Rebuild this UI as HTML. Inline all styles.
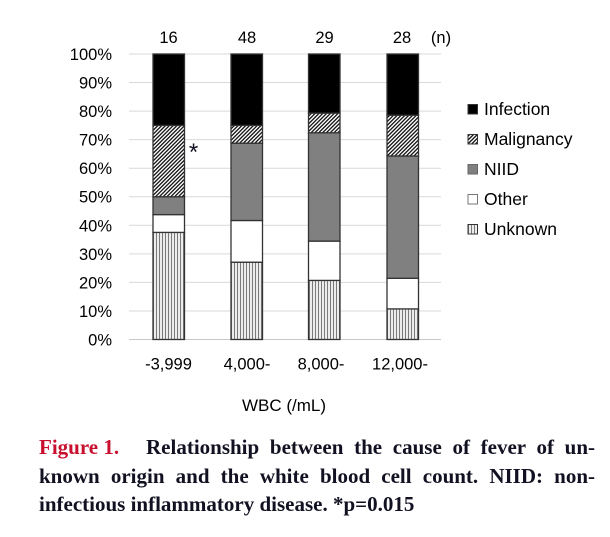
<!DOCTYPE html>
<html>
<head>
<meta charset="utf-8">
<style>
  html,body{margin:0;padding:0;background:#fff;}
  body{width:610px;height:537px;position:relative;overflow:hidden;}
  svg{position:absolute;left:0;top:0;}
  .cap{position:absolute;font-family:"Liberation Serif",serif;font-weight:bold;font-size:21px;color:#111122;white-space:nowrap;line-height:28px;}
  .just{text-align:justify;text-align-last:justify;white-space:normal;}
</style>
</head>
<body>
<svg width="610" height="537" viewBox="0 0 610 537" xmlns="http://www.w3.org/2000/svg">
  <defs>
    <pattern id="hatch" patternUnits="userSpaceOnUse" width="2.7" height="2.7" patternTransform="rotate(45)">
      <rect width="2.7" height="2.7" fill="#fff"/>
      <rect x="0" y="0" width="1.3" height="2.7" fill="#111"/>
    </pattern>
    <pattern id="vert" patternUnits="userSpaceOnUse" width="3" height="3">
      <rect width="3" height="3" fill="#ececec"/>
      <rect x="0" y="0" width="1" height="3" fill="#7a7a7a"/>
    </pattern>
  </defs>

  <!-- gridlines -->
  <g stroke="#d9d9d9" stroke-width="1">
    <line x1="129" x2="441" y1="54" y2="54"/>
    <line x1="129" x2="441" y1="82.55" y2="82.55"/>
    <line x1="129" x2="441" y1="111.1" y2="111.1"/>
    <line x1="129" x2="441" y1="139.65" y2="139.65"/>
    <line x1="129" x2="441" y1="168.2" y2="168.2"/>
    <line x1="129" x2="441" y1="196.75" y2="196.75"/>
    <line x1="129" x2="441" y1="225.3" y2="225.3"/>
    <line x1="129" x2="441" y1="253.9" y2="253.9"/>
    <line x1="129" x2="441" y1="282.4" y2="282.4"/>
    <line x1="129" x2="441" y1="311" y2="311"/>
  </g>
  <line x1="129" x2="441" y1="339.5" y2="339.5" stroke="#c8c8c8" stroke-width="1"/>

  <!-- y tick labels -->
  <g font-family="Liberation Sans, sans-serif" font-size="16.5" fill="#000" text-anchor="end">
    <text x="112" y="60">100%</text>
    <text x="112" y="88.5">90%</text>
    <text x="112" y="117">80%</text>
    <text x="112" y="145.6">70%</text>
    <text x="112" y="174.2">60%</text>
    <text x="112" y="202.7">50%</text>
    <text x="112" y="231.3">40%</text>
    <text x="112" y="259.9">30%</text>
    <text x="112" y="288.4">20%</text>
    <text x="112" y="317">10%</text>
    <text x="112" y="345.5">0%</text>
  </g>

  <!-- bars -->
  <g stroke="#333" stroke-width="1.3">
    <!-- bar 1 -->
    <rect x="153" y="232.4" width="31.5" height="107.1" fill="url(#vert)"/>
    <rect x="153" y="214.6" width="31.5" height="17.8" fill="#fff"/>
    <rect x="153" y="196.75" width="31.5" height="17.85" fill="#808080"/>
    <rect x="153" y="125.4" width="31.5" height="71.35" fill="url(#hatch)"/>
    <rect x="153" y="54" width="31.5" height="71.4" fill="#000"/>
    <!-- bar 2 -->
    <rect x="231" y="262.2" width="31.5" height="77.3" fill="url(#vert)"/>
    <rect x="231" y="220.5" width="31.5" height="41.7" fill="#fff"/>
    <rect x="231" y="143.2" width="31.5" height="77.3" fill="#808080"/>
    <rect x="231" y="125.4" width="31.5" height="17.8" fill="url(#hatch)"/>
    <rect x="231" y="54" width="31.5" height="71.4" fill="#000"/>
    <!-- bar 3 -->
    <rect x="308.5" y="280.4" width="31.5" height="59.1" fill="url(#vert)"/>
    <rect x="308.5" y="241.1" width="31.5" height="39.3" fill="#fff"/>
    <rect x="308.5" y="132.8" width="31.5" height="108.3" fill="#808080"/>
    <rect x="308.5" y="113.1" width="31.5" height="19.7" fill="url(#hatch)"/>
    <rect x="308.5" y="54" width="31.5" height="59.1" fill="#000"/>
    <!-- bar 4 -->
    <rect x="387" y="308.9" width="31.5" height="30.6" fill="url(#vert)"/>
    <rect x="387" y="278.3" width="31.5" height="30.6" fill="#fff"/>
    <rect x="387" y="156" width="31.5" height="122.3" fill="#808080"/>
    <rect x="387" y="115.2" width="31.5" height="40.8" fill="url(#hatch)"/>
    <rect x="387" y="54" width="31.5" height="61.2" fill="#000"/>
  </g>

  <!-- counts -->
  <g font-family="Liberation Sans, sans-serif" font-size="16.5" fill="#000" text-anchor="middle">
    <text x="168.5" y="43">16</text>
    <text x="247" y="43">48</text>
    <text x="324.5" y="43">29</text>
    <text x="402" y="43">28</text>
    <text x="441" y="43">(n)</text>
  </g>

  <!-- asterisk -->
  <text x="193.5" y="160" font-family="Liberation Sans, sans-serif" font-size="24" fill="#111122" text-anchor="middle">*</text>

  <!-- x labels -->
  <g font-family="Liberation Sans, sans-serif" font-size="16.5" fill="#000" text-anchor="middle">
    <text x="168.5" y="369.5">-3,999</text>
    <text x="247" y="369.5">4,000-</text>
    <text x="321" y="369.5">8,000-</text>
    <text x="400" y="369.5">12,000-</text>
  </g>
  <text x="284" y="411" font-family="Liberation Sans, sans-serif" font-size="17" fill="#000" text-anchor="middle">WBC (/mL)</text>

  <!-- legend -->
  <g stroke="#333" stroke-width="1">
    <rect x="468" y="104.5" width="9.5" height="9.5" fill="#000"/>
    <rect x="468" y="134.5" width="9.5" height="9.5" fill="url(#hatch)"/>
    <rect x="468" y="164.5" width="9.5" height="9.5" fill="#808080" stroke="#666"/>
    <rect x="468" y="194.5" width="9.5" height="9.5" fill="#fff" stroke="#777"/>
    <rect x="468" y="224.5" width="9.5" height="9.5" fill="url(#vert)"/>
  </g>
  <g font-family="Liberation Sans, sans-serif" font-size="17.5" fill="#000">
    <text x="484" y="115">Infection</text>
    <text x="484" y="145">Malignancy</text>
    <text x="484" y="175">NIID</text>
    <text x="484" y="205">Other</text>
    <text x="484" y="235">Unknown</text>
  </g>
</svg>

<!-- caption -->
<div class="cap" style="left:39px;top:433px;"><span style="color:#c8102e;">Figure 1.</span></div>
<div class="cap just" style="left:146px;top:433px;width:449px;">Relationship between the cause of fever of un-</div>
<div class="cap just" style="left:39px;top:462px;width:556px;">known origin and the white blood cell count. NIID: non-</div>
<div class="cap" style="left:39px;top:490px;">infectious inflammatory disease. *p=0.015</div>
</body>
</html>
